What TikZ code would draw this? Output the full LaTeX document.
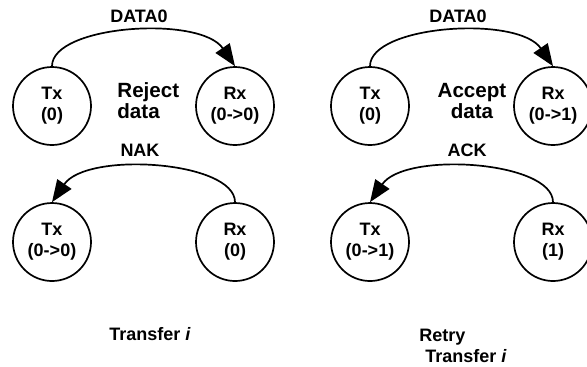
\documentclass[tikz,border=0pt]{standalone}
\usepackage{fontspec}
\setmainfont{Liberation Sans}
\usetikzlibrary{arrows.meta}
\tikzset{
  state/.style={circle,draw,line width=0.85pt,minimum size=39pt,inner sep=0pt,align=center,
    font=\bfseries\fontsize{9}{10.5}\selectfont},
  lbl/.style={inner sep=0pt,font=\bfseries\fontsize{9}{10.5}\selectfont},
  big/.style={inner sep=0pt,font=\bfseries\fontsize{10.3}{10.5}\selectfont},
  arc/.style={line width=0.85pt,-{Triangle[length=11pt,width=8.5pt]}}
}
\begin{document}
\begin{tikzpicture}[x=0.5pt,y=-0.5pt]
\useasboundingbox (0,0) rectangle (587,366);
\begin{scope}
\clip (0,0) rectangle (587,366);
% left group
\node[state] (tx1) at (52,106) {Tx\\(0)};
\node[state] (rx1) at (235,106) {Rx\\(0->0)};
\node[state] (tx2) at (52,242) {Tx\\(0->0)};
\node[state] (rx2) at (235,242) {Rx\\(0)};
% right group
\node[state] (tx3) at (370,106) {Tx\\(0)};
\node[state] (rx3) at (553,106) {Rx\\(0->1)};
\node[state] (tx4) at (370,242) {Tx\\(0->1)};
\node[state] (rx4) at (553,242) {Rx\\(1)};
\end{scope}
% arcs
\draw[arc] (tx1.north) .. controls (52,25) and (200,15) .. (rx1.north);
\draw[arc] (rx2.north) .. controls (235,161) and (87,151) .. (tx2.north);
\draw[arc] (tx3.north) .. controls (370,25) and (518,15) .. (rx3.north);
\draw[arc] (rx4.north) .. controls (553,161) and (405,151) .. (tx4.north);
% labels
\node[lbl] (d1) at (139,16) {DATA0};
\node[lbl] (n1) at (140,150) {NAK};
\node[lbl] (d2) at (458,16) {DATA0};
\node[lbl] (a2) at (467,150) {ACK};
\node[big,align=left,anchor=west] (rej) at (117,101) {Reject\\data};
\node[big,align=center] (acc) at (472,101) {Accept\\data};
\node[lbl] (t1) at (150,334) {Transfer \textit{i}};
\node[lbl,align=left,anchor=west] (t2) at (419,346) {Retry\\\hspace*{3pt}Transfer \textit{i}};
\end{tikzpicture}
\end{document}
